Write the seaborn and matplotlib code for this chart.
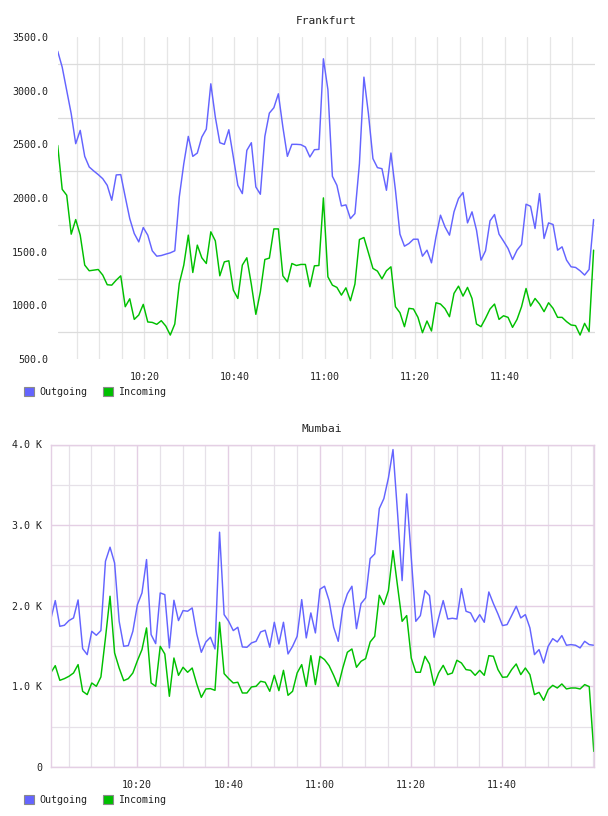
import numpy as np
import pandas as pd
import matplotlib
matplotlib.use("Agg")
import matplotlib.pyplot as plt
import matplotlib.dates as mdates
import matplotlib.ticker as mticker
from matplotlib.patches import Rectangle
import seaborn as sns

# ---------------- data ----------------
series_names = ["Outgoing", "Incoming"]
chart_titles = ["Frankfurt", "Mumbai"]
x_tick_labels = ["10:20", "10:40", "11:00", "11:20", "11:40"]
frankfurt_start = "2024-01-01 10:00:45"
mumbai_start = "2024-01-01 10:01:05"

frankfurt_out = [
    3368, 3219, 3002, 2785, 2506, 2630, 2388, 2289, 2252, 2218,
    2180, 2118, 1979, 2215, 2218, 2010, 1808, 1669, 1591, 1725,
    1654, 1508, 1458, 1464, 1477, 1489, 1508, 2010, 2320, 2574,
    2388, 2419, 2568, 2642, 3064, 2754, 2515, 2500, 2636, 2382,
    2118, 2041, 2444, 2515, 2103, 2035, 2574, 2791, 2841, 2971,
    2661, 2388, 2500, 2500, 2497, 2475, 2382, 2450, 2453, 3297,
    3010, 2202, 2118, 1926, 1936, 1808, 1855, 2320, 3126, 2785,
    2367, 2283, 2273, 2072, 2419, 2072, 1663, 1551, 1576, 1616,
    1616, 1458, 1514, 1396, 1638, 1840, 1731, 1654, 1871, 1995,
    2051, 1768, 1871, 1700, 1421, 1508, 1787, 1846, 1663, 1598,
    1530, 1427, 1514, 1567, 1942, 1923, 1716, 2041, 1623, 1768,
    1753, 1514, 1545, 1421, 1359, 1353, 1322, 1282, 1334, 1799,
]
frankfurt_in = [
    2490, 2081, 2026, 1663, 1799, 1654, 1375, 1322, 1328, 1334,
    1282, 1192, 1188, 1235, 1275, 987, 1061, 869, 910, 1009,
    845, 841, 823, 857, 807, 723, 826, 1204, 1375, 1654,
    1306, 1561, 1443, 1390, 1685, 1601, 1275, 1405, 1415, 1142,
    1064, 1375, 1443, 1195, 916, 1126, 1427, 1440, 1712, 1712,
    1275, 1219, 1390, 1371, 1381, 1381, 1173, 1368, 1371, 2001,
    1266, 1188, 1167, 1095, 1163, 1043, 1198, 1613, 1632, 1489,
    1344, 1319, 1247, 1322, 1359, 987, 931, 801, 972, 966,
    888, 745, 854, 761, 1024, 1012, 969, 894, 1111, 1179,
    1086, 1167, 1064, 826, 801, 879, 966, 1012, 869, 903,
    888, 795, 869, 987, 1157, 993, 1064, 1012, 941, 1024,
    972, 888, 888, 848, 817, 811, 723, 832, 755, 1514,
]
mumbai_out = [
    1828, 2064, 1745, 1758, 1816, 1849, 2072, 1468, 1394, 1683,
    1634, 1692, 2552, 2726, 2531, 1807, 1497, 1506, 1683, 2014,
    2159, 2573, 1642, 1530, 2159, 2138, 1477, 2068, 1816, 1940,
    1932, 1973, 1650, 1423, 1551, 1609, 1464, 2912, 1890, 1807,
    1692, 1733, 1489, 1485, 1539, 1559, 1675, 1696, 1485, 1795,
    1526, 1795, 1402, 1497, 1621, 2076, 1601, 1911, 1663, 2205,
    2242, 2064, 1733, 1559, 1973, 2147, 2242, 1716, 2027, 2097,
    2585, 2643, 3205, 3329, 3586, 3937, 3150, 2312, 3387, 2600,
    1807, 1878, 2188, 2126, 1609, 1849, 2064, 1836, 1845, 1836,
    2213, 1932, 1911, 1799, 1890, 1795, 2171, 2027, 1898, 1754,
    1766, 1878, 1994, 1849, 1890, 1725, 1394, 1456, 1290, 1497,
    1592, 1551, 1630, 1510, 1518, 1510, 1477, 1559, 1518, 1510,
]
mumbai_in = [
    1166, 1257, 1075, 1096, 1125, 1166, 1270, 939, 898, 1042,
    1001, 1117, 1601, 2118, 1415, 1228, 1071, 1096, 1166, 1319,
    1456, 1725, 1042, 1001, 1497, 1402, 877, 1352, 1137, 1237,
    1175, 1228, 1030, 864, 968, 972, 951, 1795, 1158, 1096,
    1042, 1051, 918, 918, 993, 1001, 1063, 1051, 939, 1137,
    947, 1199, 889, 939, 1166, 1270, 1001, 1381, 1022, 1373,
    1332, 1257, 1137, 1001, 1228, 1423, 1464, 1237, 1311, 1344,
    1551, 1621, 2130, 2014, 2188, 2684, 2242, 1807, 1878, 1352,
    1175, 1175, 1373, 1278, 1013, 1166, 1261, 1146, 1166, 1324,
    1290, 1208, 1199, 1137, 1199, 1137, 1381, 1373, 1208, 1113,
    1117, 1208, 1278, 1146, 1228, 1146, 898, 926, 827, 960,
    1013, 980, 1030, 968, 980, 980, 968, 1022, 997, 194,
]

# ---------------- style ----------------
sns.set_theme(style="white")
plt.rcParams["font.family"] = ["DejaVu Sans Mono", "DejaVu Sans"]
TXT = "#222222"
COLORS = {"Outgoing": "#6464ff", "Incoming": "#00c000"}


def build_frame(start, out_vals, in_vals):
    t = pd.date_range(start, periods=len(out_vals), freq="min")
    return pd.concat([
        pd.DataFrame({"time": t, "value": out_vals, "series": series_names[0]}),
        pd.DataFrame({"time": t, "value": in_vals, "series": series_names[1]}),
    ], ignore_index=True)


df_f = build_frame(frankfurt_start, frankfurt_out, frankfurt_in)
df_m = build_frame(mumbai_start, mumbai_out, mumbai_in)
day = pd.Timestamp(frankfurt_start).strftime("%Y-%m-%d")
major_ticks = [mdates.date2num(pd.Timestamp(f"{day} {lab}")) for lab in x_tick_labels]

W, H = 608, 816
fig = plt.figure(figsize=(W / 100, H / 100), dpi=100)
fig.patch.set_facecolor("white")


def px_axes(left, top, right, bottom):
    return fig.add_axes([left / W, 1 - bottom / H, (right - left) / W, (bottom - top) / H])


ax1 = px_axes(57.7, 37, 594.5, 359)
ax2 = px_axes(50.7, 444.5, 593.8, 767)

for ax, df in ((ax1, df_f), (ax2, df_m)):
    sns.lineplot(data=df, x="time", y="value", hue="series", palette=COLORS,
                 hue_order=series_names, legend=False, ax=ax, linewidth=1.05)
    ax.set_xlabel("")
    ax.set_ylabel("")
    ax.xaxis.set_major_locator(mticker.FixedLocator(major_ticks))
    ax.xaxis.set_minor_locator(mdates.MinuteLocator(byminute=range(0, 60, 5)))
    ax.xaxis.set_major_formatter(mdates.DateFormatter("%H:%M"))
    ax.tick_params(axis="both", which="both", length=0, labelsize=7.2, colors=TXT)
    ax.tick_params(axis="x", pad=9)
    ax.set_facecolor("white")

# ---- Frankfurt ----
t_f = df_f["time"]
ax1.set_xlim(t_f.min(), t_f.max() + pd.Timedelta(seconds=12))
ax1.set_ylim(500, 3500)
ax1.yaxis.set_major_locator(mticker.MultipleLocator(500))
ax1.yaxis.set_minor_locator(mticker.FixedLocator(np.arange(750, 3500, 500)))
ax1.yaxis.set_major_formatter(mticker.FormatStrFormatter("%.1f"))
ax1.tick_params(axis="y", pad=7)
ax1.grid(False)
ax1.grid(True, which="minor", axis="y", color="#dcdcdc", linewidth=0.9)
ax1.grid(True, which="both", axis="x", color="#e6e6e6", linewidth=0.9)
for s in ax1.spines.values():
    s.set_visible(False)
ax1.set_title(chart_titles[0], fontsize=8, color=TXT, pad=9)

# ---- Mumbai ----
t_m = df_m["time"]
ax2.set_xlim(t_m.min(), t_m.max())
ax2.set_ylim(0, 4000)
ax2.yaxis.set_major_locator(mticker.MultipleLocator(1000))
ax2.yaxis.set_minor_locator(mticker.MultipleLocator(500))
ax2.yaxis.set_major_formatter(mticker.FuncFormatter(
    lambda v, p: "0" if v == 0 else f"{v / 1000:.1f} K"))
ax2.tick_params(axis="y", pad=6)
ax2.grid(False)
ax2.grid(True, which="major", axis="both", color="#e4cfe4", linewidth=1.0)
ax2.grid(True, which="minor", axis="both", color="#e6e1e8", linewidth=0.9)
for s in ax2.spines.values():
    s.set_visible(True)
    s.set_color("#e4cfe4")
    s.set_linewidth(1.0)
ax2.set_title(chart_titles[1], fontsize=8, color=TXT, pad=9)

# ---- legends ----
for ax, top_px in ((ax1, 387), (ax2, 795)):
    handles = [Rectangle((0, 0), 1, 1, facecolor=COLORS[n], edgecolor="#8a8a8a", linewidth=0.8)
               for n in series_names]
    ax.legend(handles, series_names, loc="upper left",
              bbox_to_anchor=(24 / W, 1 - top_px / H), bbox_transform=fig.transFigure,
              ncol=2, frameon=False, fontsize=7.2, borderpad=0, borderaxespad=0,
              handlelength=1.0, handleheight=1.0, handletextpad=0.5,
              columnspacing=1.6, labelcolor=TXT)

fig.savefig("out.png", dpi=100, facecolor="white")
